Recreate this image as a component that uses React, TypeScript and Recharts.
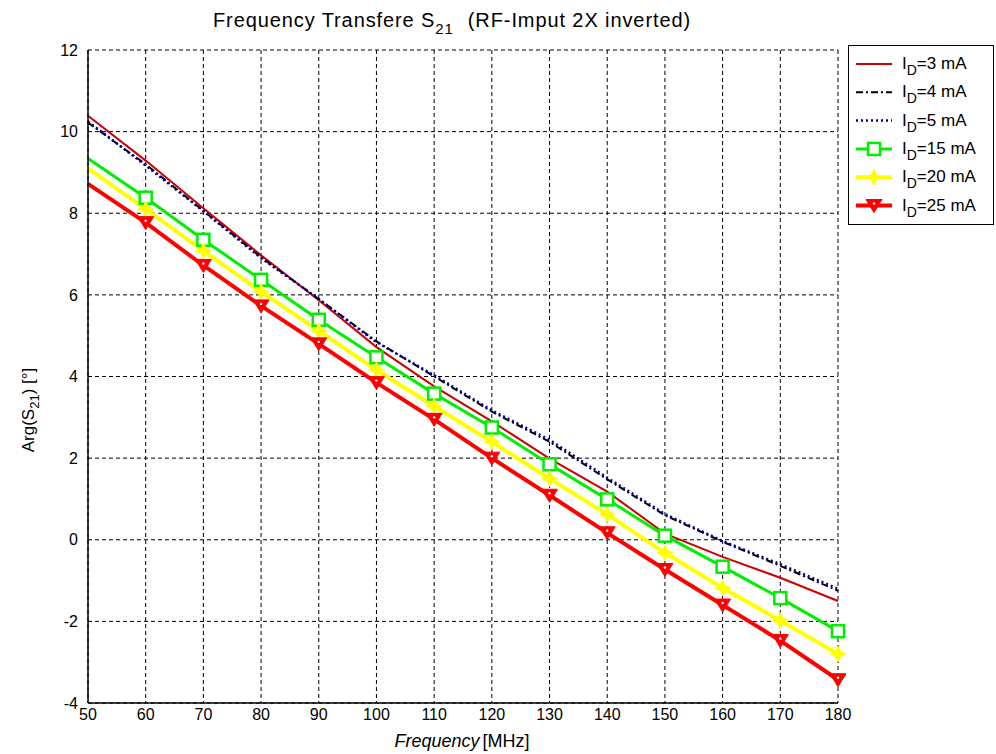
import React from 'react';
import { LineChart, Line, XAxis, YAxis, CartesianGrid } from 'recharts';

// frequency in MHz
const frequencies = [50, 60, 70, 80, 90, 100, 110, 120, 130, 140, 150, 160, 170, 180];

// Arg(S21) in degrees, one array per drain current
const id3mA = [10.39, 9.29, 8.12, 6.97, 5.87, 4.72, 3.76, 2.9, 1.99, 1.18, 0.15, -0.42, -0.93, -1.5];
const id4mA = [10.22, 9.2, 8.06, 6.92, 5.9, 4.86, 4.0, 3.14, 2.4, 1.48, 0.6, -0.05, -0.64, -1.25];
const id5mA = [10.25, 9.17, 8.05, 6.9, 5.9, 4.84, 4.03, 3.17, 2.45, 1.52, 0.63, -0.03, -0.6, -1.2];
const id15mA = [9.34, 8.38, 7.35, 6.37, 5.39, 4.47, 3.58, 2.75, 1.85, 0.99, 0.1, -0.66, -1.43, -2.24];
const id20mA = [9.1, 8.1, 7.08, 6.08, 5.12, 4.16, 3.27, 2.4, 1.5, 0.62, -0.32, -1.18, -1.98, -2.8];
const id25mA = [8.72, 7.77, 6.72, 5.73, 4.8, 3.85, 2.95, 2.0, 1.09, 0.17, -0.73, -1.6, -2.47, -3.43];

const xTicks = [50, 60, 70, 80, 90, 100, 110, 120, 130, 140, 150, 160, 170, 180];
const yTicks = [-4, -2, 0, 2, 4, 6, 8, 10, 12];

const data = frequencies.map((f, i) => ({
  freq: f,
  id3: id3mA[i],
  id4: id4mA[i],
  id5: id5mA[i],
  id15: id15mA[i],
  id20: id20mA[i],
  id25: id25mA[i],
}));

const FONT = '"Liberation Sans", Arial, sans-serif';

type MarkerKind = 'none' | 'square' | 'star' | 'triangle';

const drawMarker = (kind: MarkerKind, color: string, cx: number, cy: number, key: string) => {
  if (kind === 'square') {
    return (
      <rect key={key} x={cx - 6} y={cy - 6} width={12} height={12} fill="#fff" stroke={color} strokeWidth={2.5} />
    );
  }
  if (kind === 'star') {
    const d = `M${cx},${cy - 8} L${cx + 2.5},${cy - 2.5} L${cx + 8},${cy} L${cx + 2.5},${cy + 2.5} L${cx},${cy + 8} L${cx - 2.5},${cy + 2.5} L${cx - 8},${cy} L${cx - 2.5},${cy - 2.5} Z`;
    return <path key={key} d={d} fill={color} stroke={color} strokeWidth={1} />;
  }
  if (kind === 'triangle') {
    return (
      <g key={key}>
        <polygon points={`${cx - 8},${cy - 6} ${cx + 8},${cy - 6} ${cx},${cy + 7}`} fill={color} stroke={color} strokeWidth={1} />
        <circle cx={cx} cy={cy - 2} r={1.2} fill="#fff" />
      </g>
    );
  }
  return <g key={key} />;
};

const series = [
  { key: 'id3', label: '3', color: '#cc0000', width: 2, dash: undefined, marker: 'none' as MarkerKind },
  { key: 'id4', label: '4', color: '#000000', width: 2, dash: '7 3 2 3', marker: 'none' as MarkerKind },
  { key: 'id5', label: '5', color: '#000099', width: 2.5, dash: '2 3', marker: 'none' as MarkerKind },
  { key: 'id15', label: '15', color: '#00ee00', width: 3, dash: undefined, marker: 'square' as MarkerKind },
  { key: 'id20', label: '20', color: '#ffff00', width: 4, dash: undefined, marker: 'star' as MarkerKind },
  { key: 'id25', label: '25', color: '#ff0000', width: 4, dash: undefined, marker: 'triangle' as MarkerKind },
];

export default function App() {
  return (
    <div style={{ position: 'absolute', left: 0, top: 0, width: 996, height: 754, background: '#fff', fontFamily: FONT }}>
      <LineChart width={996} height={754} data={data} margin={{ top: 50, right: 158, bottom: 21, left: 0 }}>
        <CartesianGrid stroke="#000" strokeDasharray="4 3" strokeWidth={1} />
        <XAxis
          dataKey="freq"
          type="number"
          domain={[50, 180]}
          ticks={xTicks}
          interval={0}
          height={30}
          tickLine={false}
          tickSize={0}
          tickMargin={6}
          axisLine={{ stroke: '#000', strokeWidth: 1.5 }}
          tick={{ fill: '#000', fontSize: 16, fontFamily: FONT }}
        />
        <YAxis
          type="number"
          domain={[-4, 12]}
          ticks={yTicks}
          interval={0}
          width={88}
          tickLine={false}
          tickSize={0}
          tickMargin={10}
          axisLine={{ stroke: '#000', strokeWidth: 1.5 }}
          tick={{ fill: '#000', fontSize: 16, fontFamily: FONT }}
        />
        {series.map((s) => (
          <Line
            key={s.key}
            type="linear"
            dataKey={s.key}
            stroke={s.color}
            strokeWidth={s.width}
            strokeDasharray={s.dash}
            isAnimationActive={false}
            dot={
              s.marker === 'none'
                ? false
                : (props: any) =>
                    props.index === 0
                      ? <g key={`${s.key}-${props.index}`} />
                      : drawMarker(s.marker, s.color, props.cx, props.cy, `${s.key}-${props.index}`)
            }
            activeDot={false}
          />
        ))}
      </LineChart>
      <svg width={996} height={754} style={{ position: 'absolute', left: 0, top: 0, pointerEvents: 'none' }}>
        <text x={452} y={27} textAnchor="middle" fontSize={20} letterSpacing={0.9} fontFamily={FONT} fill="#000">
          Frequency Transfere S
          <tspan dy={7} fontSize={15}>21</tspan>
          <tspan dy={-7} dx={14}>(RF-Imput 2X inverted)</tspan>
        </text>
        <text transform="translate(34,410) rotate(-90)" textAnchor="middle" fontSize={17} fontFamily={FONT} fill="#000">
          Arg(S
          <tspan dy={5} fontSize={13}>21</tspan>
          <tspan dy={-5}>) [°]</tspan>
        </text>
        <text x={462} y={747} textAnchor="middle" fontSize={18} fontFamily={FONT} fill="#000">
          <tspan fontStyle="italic">Frequency</tspan>
          <tspan dx={3}>[MHz]</tspan>
        </text>
        <rect x={848.5} y={45.5} width={145} height={179} fill="#fff" stroke="#000" strokeWidth={1} />
        {series.map((s, i) => {
          const y = 64 + i * 28.3;
          return (
            <g key={s.key}>
              <line x1={856} x2={892} y1={y} y2={y} stroke={s.color} strokeWidth={s.width} strokeDasharray={s.dash} />
              {drawMarker(s.marker, s.color, 874, y, `leg-${s.key}`)}
              <text x={902} y={y + 5} fontSize={17} fontFamily={FONT} fill="#000">
                I
                <tspan dy={6} fontSize={14}>D</tspan>
                <tspan dy={-6}>={s.label} mA</tspan>
              </text>
            </g>
          );
        })}
      </svg>
    </div>
  );
}
